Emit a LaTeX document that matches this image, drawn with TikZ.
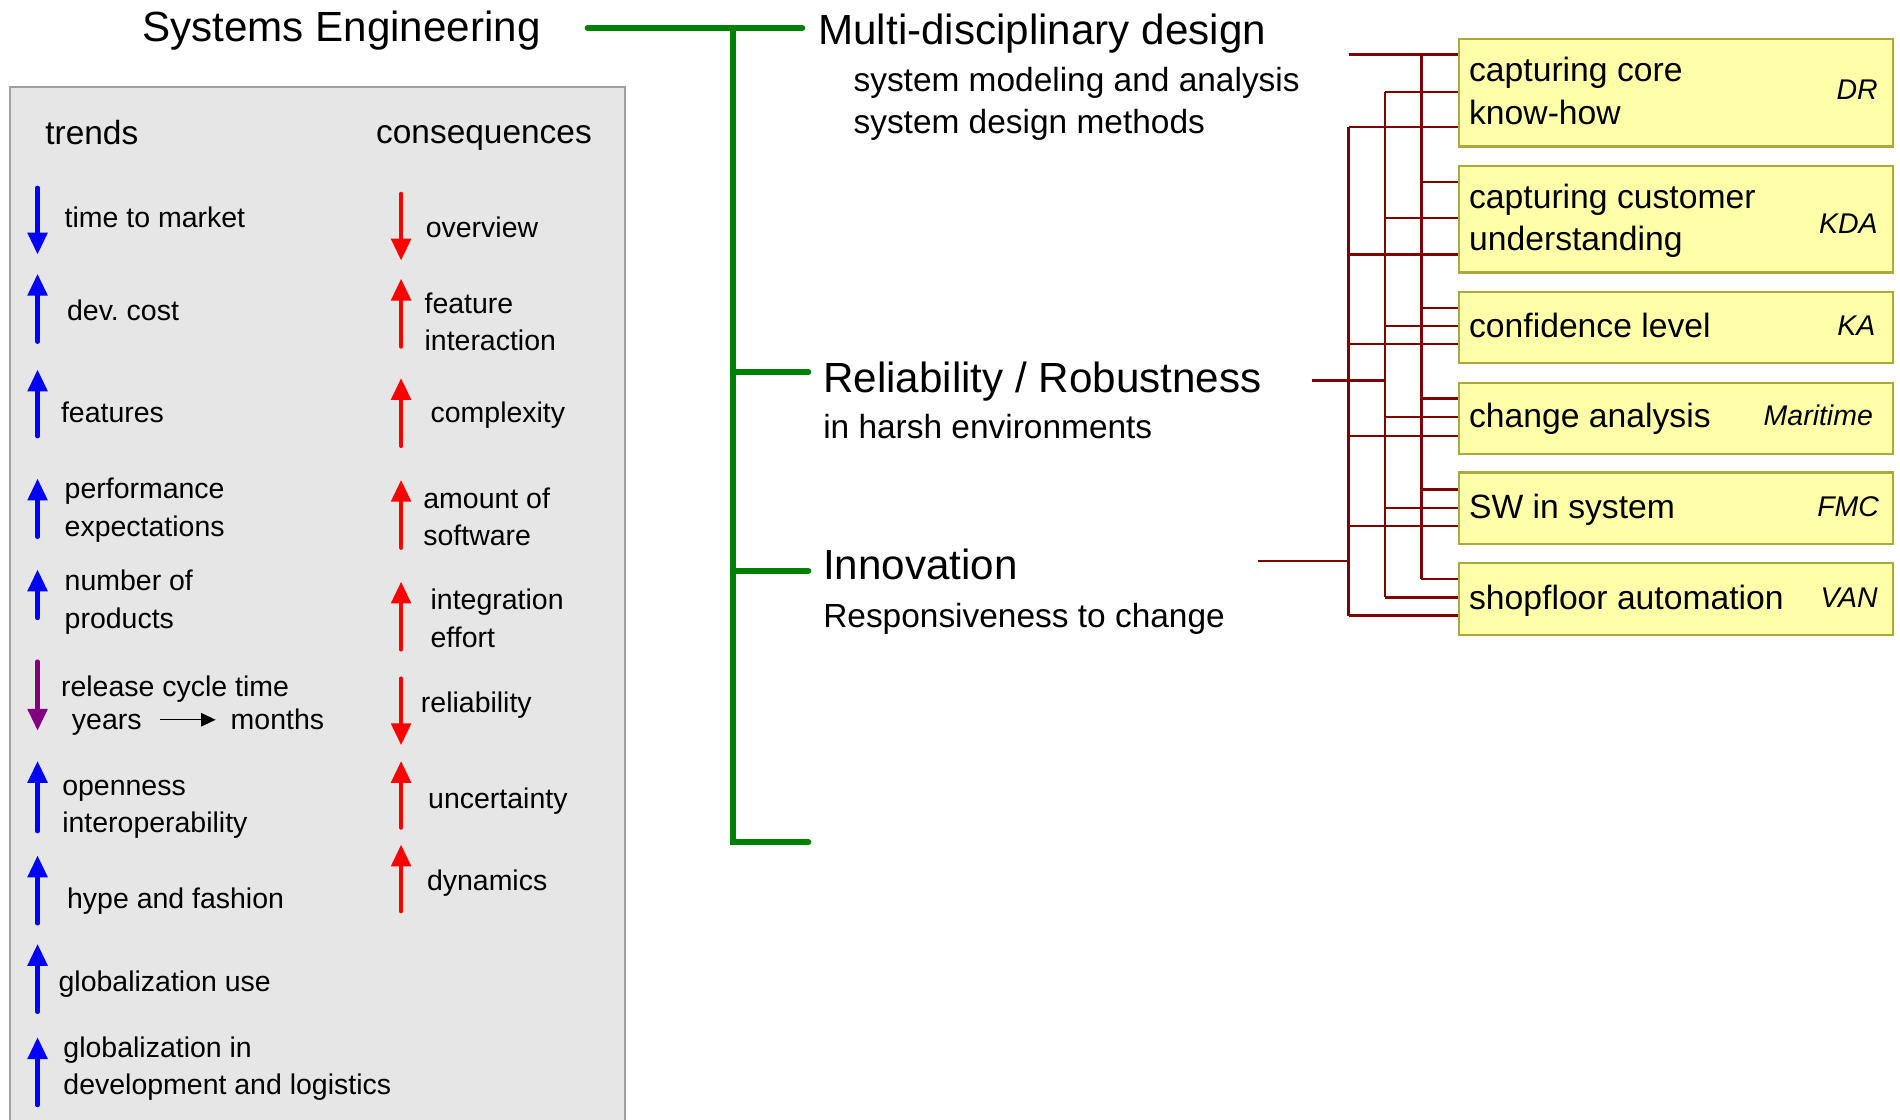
\documentclass[tikz,border=0pt]{standalone}
\usepackage{fontspec}
\setmainfont{Liberation Sans}
\usetikzlibrary{arrows.meta}
\definecolor{seGreen}{RGB}{0,128,0}
\definecolor{treeRed}{RGB}{128,0,0}
\definecolor{boxFill}{RGB}{255,255,170}
\definecolor{boxLine}{RGB}{170,170,60}
\definecolor{panelFill}{RGB}{230,230,230}
\definecolor{panelLine}{RGB}{160,160,160}
\definecolor{upBlue}{RGB}{0,0,255}
\definecolor{downRed}{RGB}{255,0,0}
\definecolor{purp}{RGB}{128,0,128}
\begin{document}
\frenchspacing
\begin{tikzpicture}[x=0.5pt,y=-0.5pt,
  big/.style={font=\fontsize{17.4}{20}\selectfont, inner sep=0pt, anchor=west},
  sub/.style={font=\fontsize{13.8}{17.5}\selectfont, inner sep=0pt, anchor=west, align=left},
  item/.style={font=\fontsize{11.75}{15.5}\selectfont, inner sep=0pt, anchor=west, align=left},
  boxtxt/.style={font=\fontsize{13.9}{17.5}\selectfont, inner sep=0pt, anchor=west, align=left},
  tag/.style={font=\fontsize{11.75}{14}\selectfont\itshape, inner sep=0pt, anchor=east},
  ybox/.style={draw=boxLine, fill=boxFill, line width=0.9pt, anchor=north west, minimum width=179pt, inner sep=0pt},
  tree/.style={draw=treeRed, line width=1pt},
  gline/.style={draw=seGreen, line width=2.6pt, line cap=round},
  trend/.style={line width=1.8pt, line cap=round, -{Triangle[length=9pt,width=8pt]}},
  thinarrow/.style={line width=0.6pt, -{Triangle[length=6pt,width=5.5pt]}}
]
\useasboundingbox (0,0) rectangle (1568,924);
% left panel
\draw[fill=panelFill, draw=panelLine, line width=0.8pt] (8,72) rectangle (516,960);
\node[sub] (trends) at (37,109) {trends};
\node[sub] (cons) at (310,114) {consequences};
% trends
\node[item] (t1) at (53,179) {time to market};
\draw[trend, upBlue] (31,155) -- (31,210);
\node[item] (t2) at (55,256) {dev. cost};
\draw[trend, upBlue] (31,282) -- (31,226);
\node[item] (t3) at (50,340) {features};
\draw[trend, upBlue] (31,360) -- (31,305);
\node[item] (t4) at (53,421) {performance\\expectations};
\draw[trend, upBlue] (31,443) -- (31,395);
\node[item] (t5) at (53,497) {number of\\products};
\draw[trend, upBlue] (31,510) -- (31,470);
\node[item] (t6) at (50,569) {release cycle time};
\node[item] (years) at (59,598) {years};
\node[item] (months) at (190,594) {months};
\draw[thinarrow] ([xshift=7.5pt]years.east |- months.west) -- ([xshift=-6pt]months.west);
\draw[trend, purp] (31,546) -- (31,603);
\node[item] (t7) at (51,668) {openness\\interoperability};
\draw[trend, upBlue] (31,686) -- (31,628);
\node[item] (t8) at (55,744) {hype and fashion};
\draw[trend, upBlue] (31,762) -- (31,706);
\node[item] (t9) at (48,812) {globalization use};
\draw[trend, upBlue] (31,835) -- (31,779);
\node[item] (t10) at (52,882) {globalization in\\development and logistics};
\draw[trend, upBlue] (31,912) -- (31,856);
% consequences
\node[item] (c1) at (351,188) {overview};
\draw[trend, downRed] (331,160) -- (331,215);
\node[item] (c2) at (350,265.5) {feature\\interaction};
\draw[trend, downRed] (331,286) -- (331,230);
\node[item] (c3) at (355,343) {complexity};
\draw[trend, downRed] (331,368) -- (331,312);
\node[item] (c4) at (349,426.5) {amount of\\software};
\draw[trend, downRed] (331,452) -- (331,396);
\node[item] (c5) at (355,510.5) {integration\\effort};
\draw[trend, downRed] (331,536) -- (331,480);
\node[item] (c6) at (347,582) {reliability};
\draw[trend, downRed] (331,560) -- (331,615);
\node[item] (c7) at (353,661) {uncertainty};
\draw[trend, downRed] (331,683) -- (331,628);
\node[item] (c8) at (352,729) {dynamics};
\draw[trend, downRed] (331,752) -- (331,697);
% title and topics
\node[big] (se) at (117,25) {Systems Engineering};
\node[big] (mdd) at (675,28) {Multi-disciplinary design};
\node[sub] (mdds) at (704,85.5) {system modeling and analysis\\system design methods};
\node[big] (rel) at (679,315) {Reliability / Robustness};
\node[sub] (rels) at (679,352) {in harsh environments};
\node[big] (inn) at (679,466) {Innovation};
\node[sub] (inns) at (679,511) {Responsiveness to change};
% green tree
\coordinate (gS) at (485,23);
\coordinate (gJ0) at (605,23);
\coordinate (gJ1) at (605,307);
\coordinate (gJ2) at (605,471);
\coordinate (gJ3) at (605,695);
\coordinate (gE0) at (662,23);
\coordinate (gE1) at (667,307);
\coordinate (gE2) at (667,471);
\coordinate (gE3) at (667,695);
\draw[gline] (gS) -- (gE0);
\draw[gline] (gJ0) -- (gJ3) -- (gE3);
\draw[gline] (gJ1) -- (gE1);
\draw[gline] (gJ2) -- (gE2);
% boxes
\node[ybox, minimum height=44.5pt] (b1) at (1203,31) {};
\node[ybox, minimum height=44pt] (b2) at (1203,136) {};
\node[ybox, minimum height=29.5pt] (b3) at (1203,240) {};
\node[ybox, minimum height=29.5pt] (b4) at (1203,315) {};
\node[ybox, minimum height=29.5pt] (b5) at (1203,389) {};
\node[ybox, minimum height=29.5pt] (b6) at (1203,464) {};
\node[boxtxt] (b1t) at (1212,75) {capturing core\\know-how};
\node[tag] (b1g) at (1550,74) {DR};
\node[boxtxt] (b2t) at (1212,182) {capturing customer\\understanding};
\node[tag] (b2g) at (1550,185) {KDA};
\node[boxtxt] (b3t) at (1212,269) {confidence level};
\node[tag] (b3g) at (1548,269) {KA};
\node[boxtxt] (b4t) at (1212,346) {change analysis};
\node[tag] (b4g) at (1546,343) {Maritime};
\node[boxtxt] (b5t) at (1212,421) {SW in system};
\node[tag] (b5g) at (1551,418) {FMC};
\node[boxtxt] (b6t) at (1212,496) {shopfloor automation};
\node[tag] (b6g) at (1550,493) {VAN};
% red tree
\coordinate (mIn) at (1113,45);
\coordinate (rIn) at (1083,314);
\coordinate (iIn) at (1038,463);
\coordinate (v1a) at (1113,105);
\coordinate (v1b) at (1113,508);
\coordinate (v2a) at (1143,76);
\coordinate (v2b) at (1143,493);
\coordinate (v3a) at (1173,45);
\coordinate (v3b) at (1173,478);
\draw[tree] (v1a) -- (v1b);
\draw[tree] (v2a) -- (v2b);
\draw[tree] (v3a) -- (v3b);
\draw[tree] (mIn) -- (mIn -| b1.west);
\draw[tree] (rIn) -- (rIn -| v2a);
\draw[tree] (iIn) -- (iIn -| v1a);
\foreach \bx/\ya/\yb/\yc in {b1/45/76/105, b2/150/180/210, b3/254/269/284, b4/329/344/360, b5/404/419/434, b6/478/493/508}{
  \draw[tree] (1173,\ya) -- (\bx.west |- {(0,\ya)});
  \draw[tree] (1143,\yb) -- (\bx.west |- {(0,\yb)});
  \draw[tree] (1113,\yc) -- (\bx.west |- {(0,\yc)});
}
\end{tikzpicture}
\end{document}
